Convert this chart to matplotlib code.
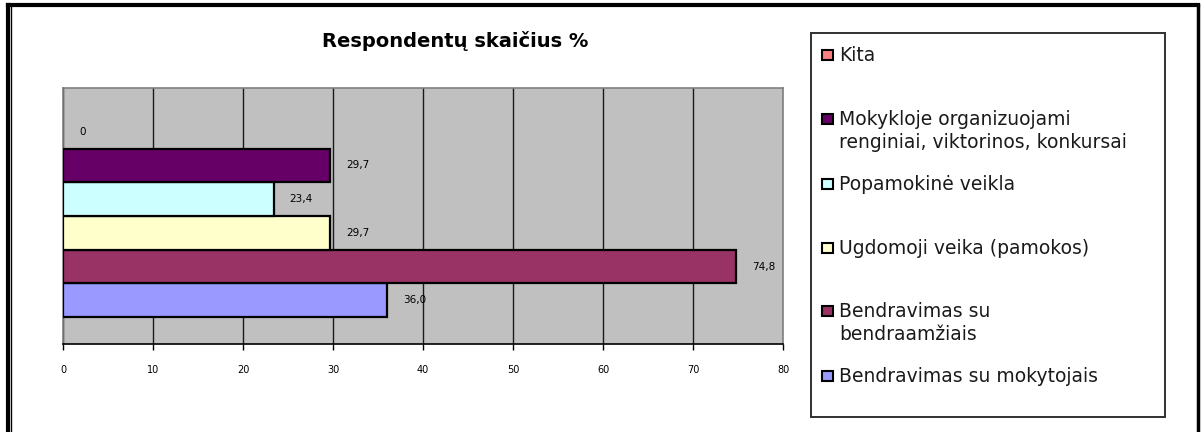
import matplotlib
matplotlib.use("Agg")
import matplotlib.pyplot as plt
from matplotlib.patches import Rectangle
from matplotlib.lines import Line2D

# categories, bottom to top as they appear in the plot
categories = [
    "Bendravimas su mokytojais",
    "Bendravimas su\nbendraamžiais",
    "Ugdomoji veika (pamokos)",
    "Popamokinė veikla",
    "Mokykloje organizuojami\nrenginiai, viktorinos, konkursai",
    "Kita",
]
values = [36.0, 74.8, 29.7, 23.4, 29.7, 0.0]
colors = ["#9999FF", "#993366", "#FFFFCC", "#CCFFFF", "#660066", "#FF8080"]
xticks = [0, 10, 20, 30, 40, 50, 60, 70, 80]
title = "Respondentų skaičius %"

W, H = 1202, 432
fig = plt.figure(figsize=(W / 100, H / 100), dpi=100)
fig.patch.set_facecolor("white")


def fx(px):
    return px / W


def fy(py):
    return 1 - py / H


# plot area
ax = fig.add_axes([fx(63), fy(344), fx(783) - fx(63), fy(88) - fy(344)])
ax.set_facecolor("#C0C0C0")
ypos = list(range(len(values)))
edge_widths = [1.6 if v > 0 else 0 for v in values]
ax.barh(ypos, values, height=1.0, color=colors, edgecolor="black",
        linewidth=edge_widths, zorder=3)
ax.set_xlim(0, 80)
ax.set_ylim(-1.3, 6.3)
ax.set_xticks(xticks)
ax.set_xticklabels([str(t) for t in xticks], fontsize=7)
ax.set_yticks([])
ax.tick_params(axis="x", length=4, width=1, pad=11, color="black")
ax.grid(axis="x", color="#1a1a1a", linewidth=1, zorder=1)
for side in ("left", "top", "right"):
    ax.spines[side].set_color("#808080")
    ax.spines[side].set_linewidth(1.2)
ax.spines["bottom"].set_color("black")
ax.spines["bottom"].set_linewidth(1.2)

# value labels to the right of each bar
for y, v in zip(ypos, values):
    txt = ("%.1f" % v).replace(".", ",") if v else "0"
    ax.annotate(txt, (v, y), xytext=(16, 0), textcoords="offset pixels",
                ha="left", va="center", fontsize=7.5, zorder=4)

fig.text(fx(455), fy(41), title, ha="center", va="center",
         fontsize=14, fontweight="bold")

# legend panel on the right
fig.patches.append(Rectangle((fx(811), fy(417)), fx(1165) - fx(811),
                             fy(33) - fy(417), transform=fig.transFigure,
                             facecolor="white", edgecolor="#303030",
                             linewidth=1.4))
legend_rows = [55, 119, 184, 248, 311, 376]
for row, label, col in zip(legend_rows, categories[::-1], colors[::-1]):
    fig.patches.append(Rectangle((fx(822), fy(row + 5)), fx(833) - fx(822),
                                 fy(row - 5) - fy(row + 5),
                                 transform=fig.transFigure, facecolor=col,
                                 edgecolor="black", linewidth=1.5))
    fig.text(fx(839), fy(row - 9), label, ha="left", va="top", fontsize=13.5,
             color="#1a1a1a", linespacing=1.3)

# outer frame of the chart
frame = [
    ((8, 8), (5, 440), 3), ((11, 11), (7, 440), 1),
    ((8, 1198), (5, 5), 3), ((1198, 1198), (5, 440), 2.5),
]
for xs, ys, lw in frame:
    fig.lines.append(Line2D([fx(xs[0]), fx(xs[1])], [fy(ys[0]), fy(ys[1])],
                            transform=fig.transFigure, color="black",
                            linewidth=lw))

fig.savefig("out.png", dpi=100)
